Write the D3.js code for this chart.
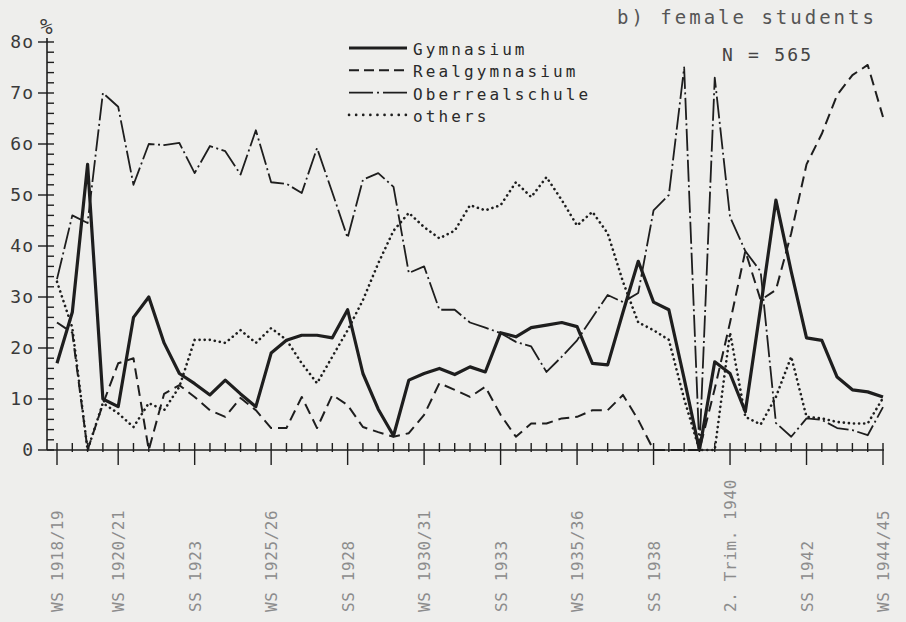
<!DOCTYPE html>
<html>
<head>
<meta charset="utf-8">
<script src="https://cdn.jsdelivr.net/npm/d3@7"></script>
<style>
  body { margin: 0; background: #eeeeec; }
  svg { display: block; }
  text { font-family: "DejaVu Sans Mono", monospace; fill: #2a2a2a; }
</style>
</head>
<body>
<svg width="906" height="622"></svg>
<script>
// semesters (WS = winter, SS = summer, wartime trimesters 1940/41)
const periods = [
  "WS 1918/19", "SS 1919", "WS 1919/20", "SS 1920", "WS 1920/21", "SS 1921", "WS 1921/22", "SS 1922",
  "WS 1922/23", "SS 1923", "WS 1923/24", "SS 1924", "WS 1924/25", "SS 1925", "WS 1925/26", "SS 1926",
  "WS 1926/27", "SS 1927", "WS 1927/28", "SS 1928", "WS 1928/29", "SS 1929", "WS 1929/30", "SS 1930",
  "WS 1930/31", "SS 1931", "WS 1931/32", "SS 1932", "WS 1932/33", "SS 1933", "WS 1933/34", "SS 1934",
  "WS 1934/35", "SS 1935", "WS 1935/36", "SS 1936", "WS 1936/37", "SS 1937", "WS 1937/38", "SS 1938",
  "WS 1938/39", "SS 1939", "Herbst 1939", "1. Trim. 1940", "2. Trim. 1940", "3. Trim. 1940", "Trim. 1941",
  "SS 1941", "WS 1941/42", "SS 1942", "WS 1942/43", "SS 1943", "WS 1943/44", "SS 1944", "WS 1944/45"
];
const labelledPeriods = ["WS 1918/19", "WS 1920/21", "SS 1923", "WS 1925/26", "SS 1928", "WS 1930/31",
  "SS 1933", "WS 1935/36", "SS 1938", "2. Trim. 1940", "SS 1942", "WS 1944/45"];

const gymnasium = [17, 27, 56, 10, 8.5, 26, 30, 21, 15, 13, 10.8, 13.7, 11, 8.5, 19, 21.5, 22.5, 22.5, 22, 27.5,
  15, 8, 2.8, 13.7, 15, 16, 14.8, 16.3, 15.3, 23, 22.2, 24, 24.5, 25, 24.2, 17, 16.7, 27, 37, 29,
  27.5, 14, 0, 17.3, 15, 7.5, 28, 49, 35, 22, 21.5, 14.3, 11.8, 11.4, 10.4];
const realgymnasium = [25, 23, 0, 9, 17, 18, 0, 11, 12.7, 10.4, 7.8, 6.5, 10.2, 7.8, 4.3, 4.3, 10.4, 4.3, 10.8, 8.8,
  4.5, 3.5, 2.6, 3.3, 6.9, 13.1, 11.8, 10.4, 12.4, 6.9, 2.6, 5.2, 5.2, 6.2, 6.5, 7.8, 7.8, 10.8, 5.9, 0,
  0, 0, 0, 12, 25, 39, 29.4, 31.4, 42.5, 56, 62, 69.6, 73.5, 75.5, 65.3];
const oberrealschule = [33.5, 46, 44.5, 70, 67.3, 52, 60, 59.8, 60.2, 54.3, 59.6, 58.6, 54, 62.7, 52.5, 52.2, 50.4, 59.2, 50.5, 41.6,
  53, 54.3, 51.6, 34.7, 36, 27.5, 27.5, 25, 24, 22.9, 21.2, 20.3, 15.3, 18.3, 21.5, 26, 30.4, 29, 30.8, 47,
  50, 75, 0, 73, 45.7, 39, 35, 5.3, 2.6, 6.2, 5.9, 4.3, 3.9, 2.9, 8.4];
const others = [33, 24, 0, 9.2, 7.2, 4.5, 9.2, 7.8, 12.4, 21.6, 21.6, 21, 23.5, 21, 23.9, 21.6, 17, 13.1, 18.3, 23.5,
  29.4, 36.6, 43, 46.5, 43.7, 41.5, 43, 48, 47, 48, 52.5, 49.6, 53.5, 49, 44, 46.7, 42.5, 33, 25, 23.5,
  21.6, 10, 0, 0, 23, 6.5, 5, 10.4, 18.3, 6.5, 6.2, 5.5, 5.2, 5.2, 10.2];

const yTickValues = [0, 10, 20, 30, 40, 50, 60, 70, 80];
const yTickLabels = ["0", "1o", "2o", "3o", "4o", "5o", "6o", "7o", "8o"];

const series = [
  { name: "Gymnasium", values: gymnasium, width: 3.2, dash: null, cap: "butt" },
  { name: "Realgymnasium", values: realgymnasium, width: 2, dash: "11,6", cap: "butt" },
  { name: "Oberrealschule", values: oberrealschule, width: 1.8, dash: "22,3.5,2,3.5", cap: "butt" },
  { name: "others", values: others, width: 2.6, dash: "0.1,5", cap: "round" }
];

const svg = d3.select("svg");
const ink = "#1e1e1e";

const x = d3.scalePoint().domain(periods).range([57, 883]);
const y = d3.scaleLinear().domain([0, 80]).range([450, 42]);
const axisX = 47;

// y axis
svg.append("line")
    .attr("x1", axisX).attr("x2", axisX)
    .attr("y1", y(0)).attr("y2", y(80) - 4)
    .attr("stroke", ink).attr("stroke-width", 1.6);

svg.append("g")
    .selectAll("line")
    .data(d3.range(0, 81, 2))
    .enter()
    .append("line")
    .attr("x1", d => d % 10 === 0 ? axisX - 9 : axisX)
    .attr("x2", axisX + 7)
    .attr("y1", d => y(d)).attr("y2", d => y(d))
    .attr("stroke", ink).attr("stroke-width", 1.4);

svg.append("g")
    .selectAll("text")
    .data(yTickValues)
    .enter()
    .append("text")
    .attr("x", axisX - 13)
    .attr("y", d => y(d) + 6)
    .attr("text-anchor", "end")
    .attr("font-size", 18)
    .attr("letter-spacing", 1)
    .style("fill", "#3a3a3a")
    .text((d, i) => yTickLabels[i]);

svg.append("text")
    .attr("x", 40).attr("y", 34)
    .attr("font-size", 21)
    .style("fill", "#3a3a3a")
    .text("%");

// x axis
svg.append("line")
    .attr("x1", axisX).attr("x2", x(periods[periods.length - 1]) + 1)
    .attr("y1", y(0)).attr("y2", y(0))
    .attr("stroke", ink).attr("stroke-width", 1.6);

svg.append("g")
    .selectAll("line")
    .data(periods)
    .enter()
    .append("line")
    .attr("x1", d => x(d)).attr("x2", d => x(d))
    .attr("y1", y(0) - 7)
    .attr("y2", d => labelledPeriods.includes(d) ? y(0) + 15 : y(0) + 2)
    .attr("stroke", ink).attr("stroke-width", 1.4);

svg.append("g")
    .selectAll("text")
    .data(labelledPeriods)
    .enter()
    .append("text")
    .attr("transform", d => `translate(${x(d) + 6},612) rotate(-90)`)
    .attr("font-size", 16)
    .attr("letter-spacing", 0.6)
    .style("fill", "#8c8c8c")
    .text(d => d);

// lines
const line = d3.line()
    .x((d, i) => x(periods[i]))
    .y(d => y(d));

svg.append("g")
    .selectAll("path")
    .data(series)
    .enter()
    .append("path")
    .attr("d", d => line(d.values))
    .attr("fill", "none")
    .attr("stroke", ink)
    .attr("stroke-width", d => d.width)
    .attr("stroke-dasharray", d => d.dash)
    .attr("stroke-linecap", d => d.cap)
    .attr("stroke-linejoin", "round");

// legend
const legendDash = ["none", "10,5", "24,4,2,4", "0.1,7"];
const legend = svg.append("g")
    .selectAll("g")
    .data(series)
    .enter()
    .append("g")
    .attr("transform", (d, i) => `translate(349,${48 + i * 22.3})`);

legend.append("line")
    .attr("x1", 0).attr("x2", 58)
    .attr("stroke", ink)
    .attr("stroke-width", d => d.width)
    .attr("stroke-dasharray", (d, i) => legendDash[i])
    .attr("stroke-linecap", d => d.cap);

legend.append("text")
    .attr("x", 64).attr("y", 7)
    .attr("font-size", 16)
    .attr("letter-spacing", 3.1)
    .text(d => d.name);

// title
svg.append("text")
    .attr("x", 617).attr("y", 24)
    .attr("font-size", 19)
    .attr("letter-spacing", 3)
    .style("fill", "#555")
    .text("b) female students");

svg.append("text")
    .attr("x", 722).attr("y", 61)
    .attr("font-size", 18)
    .attr("letter-spacing", 2.2)
    .style("fill", "#444")
    .text("N = 565");
</script>
</body>
</html>
